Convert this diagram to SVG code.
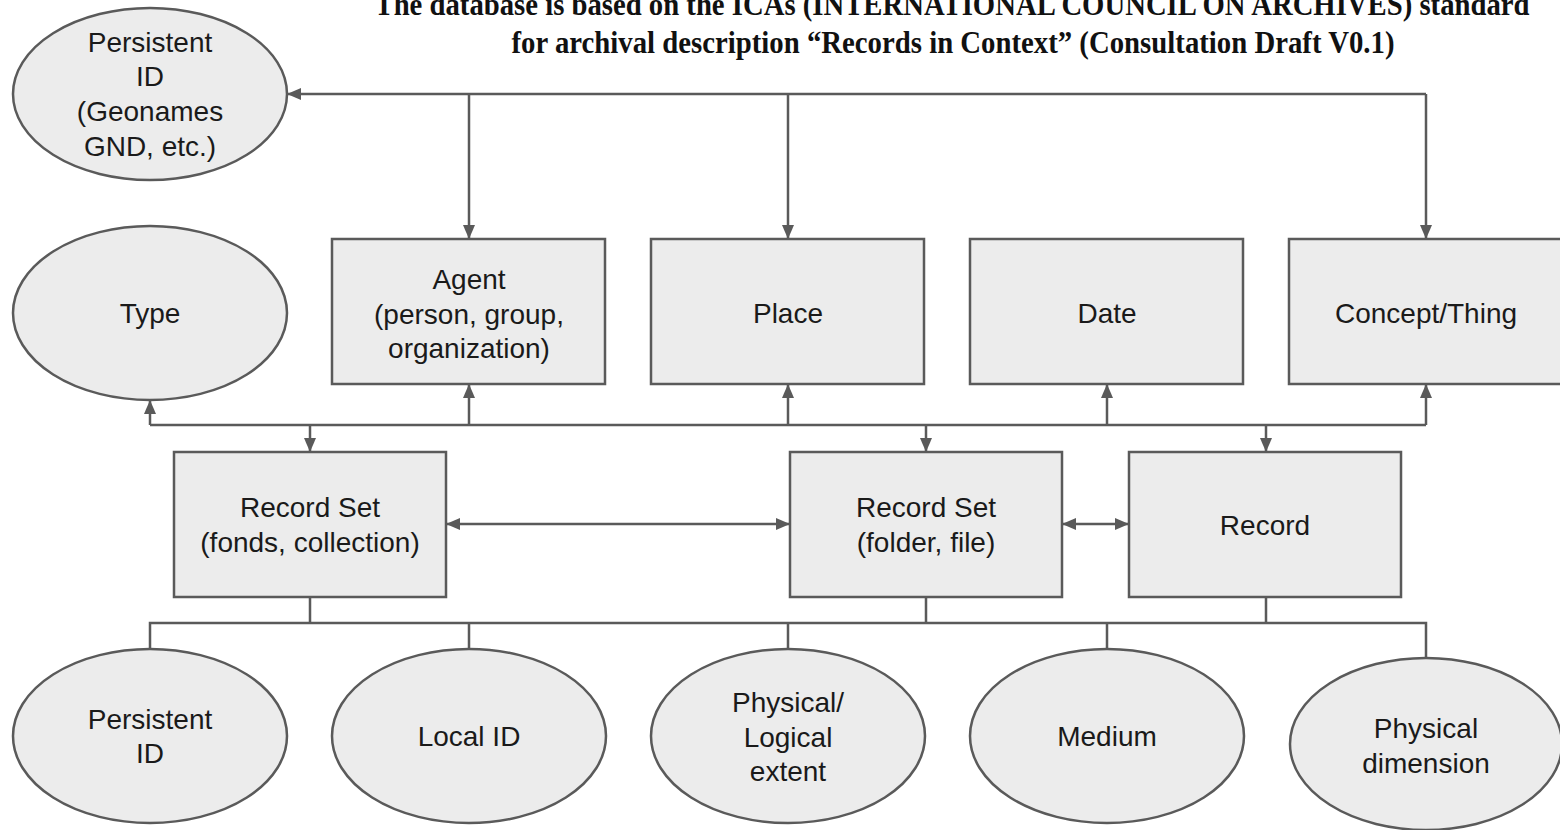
<svg xmlns="http://www.w3.org/2000/svg" width="1560" height="830" viewBox="0 0 1560 830">
<style>
.n{fill:#ececec;stroke:#5a5a5a;stroke-width:2.5}
.t{font-family:"Liberation Sans",Arial,sans-serif;font-size:28px;fill:#1a1a1a;text-anchor:middle}
.c{fill:none;stroke:#5a5a5a;stroke-width:2.5}
.h{font-family:"Liberation Serif","Times New Roman",serif;font-weight:bold;font-size:31px;fill:#111;text-anchor:middle}
</style>
<defs>
<marker id="a" markerUnits="userSpaceOnUse" markerWidth="14" markerHeight="14" viewBox="0 0 14 14" refX="13" refY="7" orient="auto-start-reverse">
<path d="M0,1 L14,7 L0,13 Z" fill="#5a5a5a"/>
</marker>
</defs>
<rect width="1560" height="830" fill="#fff"/>
<g id="title">
<text class="h" x="952" y="15" textLength="1155" lengthAdjust="spacingAndGlyphs">The database is based on the ICAs (INTERNATIONAL COUNCIL ON ARCHIVES) standard</text>
<text class="h" x="953" y="53" textLength="883" lengthAdjust="spacingAndGlyphs">for archival description “Records in Context” (Consultation Draft V0.1)</text>
</g>
<g id="connectors">
<path class="c" d="M1426,94 H288" marker-end="url(#a)"/>
<path class="c" d="M1426,94 V238" marker-end="url(#a)"/>
<path class="c" d="M469,94 V238" marker-end="url(#a)"/>
<path class="c" d="M788,94 V238" marker-end="url(#a)"/>
<path class="c" d="M150,425 H1426"/>
<path class="c" d="M150,425 V401" marker-end="url(#a)"/>
<path class="c" d="M469,425 V385" marker-end="url(#a)"/>
<path class="c" d="M788,425 V385" marker-end="url(#a)"/>
<path class="c" d="M1107,425 V385" marker-end="url(#a)"/>
<path class="c" d="M1426,425 V385" marker-end="url(#a)"/>
<path class="c" d="M310,425 V451" marker-end="url(#a)"/>
<path class="c" d="M926,425 V451" marker-end="url(#a)"/>
<path class="c" d="M1266,425 V451" marker-end="url(#a)"/>
<path class="c" d="M447,524 H789" marker-start="url(#a)" marker-end="url(#a)"/>
<path class="c" d="M1063,524 H1128" marker-start="url(#a)" marker-end="url(#a)"/>
<path class="c" d="M310,597 V623 M926,597 V623 M1266,597 V623"/>
<path class="c" d="M150,649 V623 H1426 V658 M469,623 V649 M788,623 V649 M1107,623 V649"/>
</g>
<g id="persistent-id-top"><ellipse class="n" cx="150" cy="94" rx="137" ry="86"/>
<text class="t" x="150" y="52">Persistent</text><text class="t" x="150" y="86">ID</text><text class="t" x="150" y="121">(Geonames</text><text class="t" x="150" y="156">GND, etc.)</text></g>
<g id="type"><ellipse class="n" cx="150" cy="313" rx="137" ry="87"/><text class="t" x="150" y="323">Type</text></g>
<g id="agent"><rect class="n" x="332" y="239" width="273" height="145"/>
<text class="t" x="469" y="289">Agent</text><text class="t" x="469" y="324">(person, group,</text><text class="t" x="469" y="358">organization)</text></g>
<g id="place"><rect class="n" x="651" y="239" width="273" height="145"/><text class="t" x="788" y="323">Place</text></g>
<g id="date"><rect class="n" x="970" y="239" width="273" height="145"/><text class="t" x="1107" y="323">Date</text></g>
<g id="concept"><rect class="n" x="1289" y="239" width="273" height="145"/><text class="t" x="1426" y="323">Concept/Thing</text></g>
<g id="recordset-fonds"><rect class="n" x="174" y="452" width="272" height="145"/>
<text class="t" x="310" y="517">Record Set</text><text class="t" x="310" y="552">(fonds, collection)</text></g>
<g id="recordset-folder"><rect class="n" x="790" y="452" width="272" height="145"/>
<text class="t" x="926" y="517">Record Set</text><text class="t" x="926" y="552">(folder, file)</text></g>
<g id="record"><rect class="n" x="1129" y="452" width="272" height="145"/><text class="t" x="1265" y="535">Record</text></g>
<g id="persistent-id"><ellipse class="n" cx="150" cy="736" rx="137" ry="87"/>
<text class="t" x="150" y="729">Persistent</text><text class="t" x="150" y="763">ID</text></g>
<g id="local-id"><ellipse class="n" cx="469" cy="736" rx="137" ry="87"/><text class="t" x="469" y="746">Local ID</text></g>
<g id="extent"><ellipse class="n" cx="788" cy="736" rx="137" ry="87"/>
<text class="t" x="788" y="712">Physical/</text><text class="t" x="788" y="747">Logical</text><text class="t" x="788" y="781">extent</text></g>
<g id="medium"><ellipse class="n" cx="1107" cy="736" rx="137" ry="87"/><text class="t" x="1107" y="746">Medium</text></g>
<g id="dimension"><ellipse class="n" cx="1426" cy="744" rx="136" ry="86"/>
<text class="t" x="1426" y="738">Physical</text><text class="t" x="1426" y="773">dimension</text></g>
</svg>
